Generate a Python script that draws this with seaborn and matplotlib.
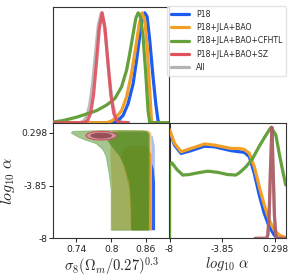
import numpy as np
import pandas as pd
import matplotlib
matplotlib.use("Agg")
import matplotlib.pyplot as plt
import matplotlib.lines as mlines
import seaborn as sns

# ---------------- data ----------------
labels = ["P18", "P18+JLA+BAO", "P18+JLA+BAO+CFHTL", "P18+JLA+BAO+SZ", "All"]
colors = ["#1c5cf2", "#f29f26", "#64a03c", "#e0505e", "#b4b4b4"]

# 1D marginal of sigma8 (Omega_m/0.27)^0.3
s8_p18_x = [0.70, 0.8035, 0.8121, 0.8207, 0.8293, 0.838, 0.8448, 0.8506, 0.8552, 0.8581, 0.8621, 0.8667, 0.8724, 0.8771, 0.881, 0.883, 0.90]
s8_p18_y = [0.0, 0.0, 0.02, 0.067, 0.173, 0.356, 0.60, 0.84, 0.98, 1.0, 0.965, 0.75, 0.416, 0.173, 0.02, 0.0, 0.0]
s8_jb_x = [0.70, 0.792, 0.8006, 0.8093, 0.8179, 0.8266, 0.8352, 0.8426, 0.8483, 0.8534, 0.8581, 0.8628, 0.8667, 0.8697, 0.871, 0.90]
s8_jb_y = [0.0, 0.0, 0.015, 0.05, 0.11, 0.234, 0.447, 0.69, 0.89, 1.0, 0.933, 0.66, 0.295, 0.02, 0.0, 0.0]
s8_cf_x = [0.70, 0.7172, 0.7403, 0.7576, 0.7748, 0.792, 0.8064, 0.8179, 0.8266, 0.8322, 0.838, 0.8426, 0.8466, 0.8506, 0.8552, 0.8598, 0.8638, 0.8667, 0.90]
s8_cf_y = [0.006, 0.02, 0.05, 0.08, 0.11, 0.16, 0.22, 0.325, 0.477, 0.63, 0.81, 0.95, 1.0, 0.965, 0.78, 0.447, 0.11, 0.0, 0.0]
s8_sz_x = [0.70, 0.750, 0.7545, 0.7595, 0.7645, 0.7695, 0.7745, 0.7795, 0.7845, 0.7895, 0.7945, 0.7995, 0.8045, 0.8095, 0.8145, 0.83]
s8_sz_y = [0.0, 0.0, 0.004, 0.021, 0.085, 0.25, 0.54, 0.857, 1.0, 0.857, 0.54, 0.25, 0.085, 0.021, 0.004, 0.0]
s8_all_x = [0.745, 0.748, 0.753, 0.758, 0.763, 0.768, 0.773, 0.778, 0.783, 0.788, 0.793, 0.798, 0.803, 0.808, 0.813, 0.818, 0.83]
s8_all_y = [0.0, 0.004, 0.017, 0.059, 0.163, 0.36, 0.635, 0.893, 1.0, 0.893, 0.635, 0.36, 0.163, 0.059, 0.017, 0.004, 0.0]

# 1D marginal of log10 alpha
la_p18_x = [-8.0, -7.61, -7.09, -6.31, -5.27, -4.48, -3.18, -2.53, -2.14, -1.75, -1.36, -0.97, -0.58, -0.19, 0.2, 0.45, 1.1]
la_p18_y = [0.97, 0.84, 0.765, 0.79, 0.83, 0.825, 0.79, 0.78, 0.775, 0.735, 0.585, 0.39, 0.225, 0.105, 0.03, 0.0, 0.0]
la_jb_x = [-8.0, -7.61, -7.09, -6.31, -5.27, -4.48, -3.18, -2.53, -2.14, -1.75, -1.36, -0.97, -0.58, -0.19, 0.2, 0.59, 0.98, 1.1]
la_jb_y = [0.98, 0.856, 0.78, 0.81, 0.85, 0.84, 0.81, 0.81, 0.80, 0.766, 0.646, 0.465, 0.30, 0.165, 0.075, 0.03, 0.01, 0.008]
la_cf_x = [-8.0, -8.0, -7.81, -7.42, -6.96, -6.44, -5.79, -5.01, -4.24, -3.46, -2.81, -2.53, -2.0, -1.49, -0.97, -0.45, -0.05, 0.33, 0.59, 0.85, 1.1]
la_cf_y = [0.0, 0.66, 0.68, 0.62, 0.57, 0.575, 0.59, 0.605, 0.595, 0.575, 0.57, 0.59, 0.646, 0.72, 0.83, 0.93, 1.0, 0.93, 0.766, 0.616, 0.48]
la_sz_x = [-1.3, -0.4, -0.3, -0.2, -0.1, 0.02, 0.12, 0.22, 0.32, 0.42, 1.1]
la_sz_y = [0.0, 0.0, 0.03, 0.2, 0.6, 1.0, 0.6, 0.2, 0.03, 0.0, 0.0]

# 2D contours (sigma8 combo, log10 alpha): outer / inner polygons
blue_out_x = [0.8087, 0.8661, 0.8719, 0.8754, 0.8759, 0.8018, 0.8018, 0.8029]
blue_out_y = [0.16, 0.16, 0.03, -0.75, -7.36, -7.36, -2.85, -1.01]
blue_in_x = [0.8374, 0.8661, 0.8736, 0.8759, 0.8759, 0.8374]
blue_in_y = [-1.54, -1.41, -2.59, -3.64, -7.36, -7.36]
orng_out_x = [0.8029, 0.8633, 0.8690, 0.8708, 0.8702, 0.8018, 0.8018, 0.7994, 0.7983, 0.8000]
orng_out_y = [0.50, 0.50, 0.34, -0.49, -7.36, -7.36, -4.16, -2.33, -1.01, 0.29]
orng_in_x = [0.8173, 0.8213, 0.8317, 0.8489, 0.8633, 0.8696, 0.8702, 0.8345, 0.8317, 0.8231]
orng_in_y = [-1.54, -0.97, -0.70, -0.68, -0.81, -1.41, -7.36, -7.36, -4.16, -2.59]
grn_out_x = [0.7311, 0.7340, 0.7684, 0.8144, 0.8546, 0.8633, 0.8661, 0.8661, 0.8655, 0.8650, 0.8000, 0.8000, 0.7972, 0.7943, 0.7914, 0.7857, 0.7742, 0.7569, 0.7426]
grn_out_y = [0.29, 0.42, 0.46, 0.48, 0.46, 0.38, 0.16, -1.54, -4.16, -7.36, -7.36, -4.16, -3.11, -2.33, -1.54, -1.01, -0.55, -0.29, -0.023]
grn_in_x = [0.7943, 0.8144, 0.8604, 0.8650, 0.8650, 0.8345, 0.8345, 0.8317, 0.8231, 0.8144, 0.8029, 0.7943]
grn_in_y = [0.29, 0.40, 0.40, 0.24, -7.36, -7.36, -5.47, -3.64, -2.33, -1.54, -0.88, -0.36]
red_out_x = [0.810, 0.806, 0.7965, 0.783, 0.7695, 0.7596, 0.756, 0.7596, 0.7695, 0.783, 0.7965, 0.806]
red_out_y = [0.08, 0.255, 0.383, 0.43, 0.383, 0.255, 0.08, -0.095, -0.223, -0.27, -0.223, -0.095]
red_in_x = [0.802, 0.7995, 0.7925, 0.783, 0.7735, 0.7665, 0.764, 0.7665, 0.7735, 0.783, 0.7925, 0.7995]
red_in_y = [0.08, 0.20, 0.288, 0.32, 0.288, 0.20, 0.08, -0.04, -0.128, -0.16, -0.128, -0.04]

s8_ticks = [0.74, 0.8, 0.86]
s8_ticklabels = ["0.74", "0.8", "0.86"]
la_ticks = [-8, -3.85, 0.298]
la_ticklabels = ["-8", "-3.85", "0.298"]

# ---------------- figure ----------------
sns.set_theme(style="ticks")
plt.rcParams["font.family"] = ["DejaVu Sans"]
plt.rcParams["mathtext.fontset"] = "cm"

fig = plt.figure(figsize=(2.95, 2.8), dpi=100)
ax_tl = fig.add_axes([0.1807, 0.5618, 0.3922, 0.4121])
ax_bl = fig.add_axes([0.1807, 0.1489, 0.3922, 0.4129])
ax_br = fig.add_axes([0.5746, 0.1489, 0.3939, 0.4129])

lw = 2.3

def line(ax, x, y, c, z, alpha=1.0):
    df = pd.DataFrame({"x": x, "y": y})
    sns.lineplot(data=df, x="x", y="y", ax=ax, color=c, lw=lw, sort=False,
                 estimator=None, zorder=z, alpha=alpha)

# top-left 1D
line(ax_tl, s8_all_x, s8_all_y, colors[4], 2, 0.9)
line(ax_tl, s8_p18_x, s8_p18_y, colors[0], 3)
line(ax_tl, s8_jb_x, s8_jb_y, colors[1], 4)
line(ax_tl, s8_cf_x, s8_cf_y, colors[2], 5)
line(ax_tl, s8_sz_x, s8_sz_y, colors[3], 6, 0.9)
ax_tl.set_xlim(0.70, 0.90)
ax_tl.set_ylim(0, 1.05)
ax_tl.set_xticks(s8_ticks)
ax_tl.set_xticklabels([])
ax_tl.set_yticks([])
ax_tl.set_xlabel("")
ax_tl.set_ylabel("")

# bottom-right 1D
line(ax_br, la_p18_x, la_p18_y, colors[0], 3)
line(ax_br, la_jb_x, la_jb_y, colors[1], 4)
line(ax_br, la_cf_x, la_cf_y, colors[2], 5)
line(ax_br, la_sz_x, la_sz_y, colors[3], 6, 0.9)
line(ax_br, la_sz_x, la_sz_y, "#707070", 7, 0.45)
ax_br.set_xlim(-8, 1.1)
ax_br.set_ylim(0, 1.042)
ax_br.set_xticks(la_ticks)
ax_br.set_xticklabels(la_ticklabels)
ax_br.set_yticks([])
ax_br.set_xlabel(r"$log_{10}\ \alpha$", fontsize=10.5, labelpad=1)
ax_br.set_ylabel("")

# bottom-left 2D
ax_bl.fill(blue_out_x, blue_out_y, color="#a8bef5", lw=0, zorder=1)
ax_bl.fill(blue_in_x, blue_in_y, color="#2e63f0", lw=0, zorder=2)
ax_bl.fill(orng_out_x, orng_out_y, color="#f6c98e", lw=0, zorder=3)
ax_bl.fill(orng_in_x, orng_in_y, color="#eb9a2b", lw=0, zorder=4)
ax_bl.fill(grn_out_x, grn_out_y, color="#5a9a36", alpha=0.55, lw=0.6, ec="#5a9a36", zorder=5)
ax_bl.fill(grn_in_x, grn_in_y, color="#4f8a22", alpha=0.7, lw=0, zorder=6)
ax_bl.fill(red_out_x, red_out_y, color="#cc9a9c", lw=0.8, ec="#d05060", zorder=7)
ax_bl.fill(red_in_x, red_in_y, color="#985058", lw=0, zorder=8)
ax_bl.set_xlim(0.70, 0.90)
ax_bl.set_ylim(-8, 1.1)
ax_bl.set_xticks(s8_ticks)
ax_bl.set_xticklabels(s8_ticklabels)
ax_bl.set_yticks(la_ticks)
ax_bl.set_yticklabels(la_ticklabels)
ax_bl.tick_params(axis="y", right=True)
for t in ax_bl.yaxis.get_major_ticks():
    t.tick2line.set_marker(mlines.TICKLEFT)
ax_bl.set_xlabel(r"$\sigma_8(\Omega_m/0.27)^{0.3}$", fontsize=10.5, labelpad=1)
ax_bl.set_ylabel(r"$log_{10}\ \alpha$", fontsize=11.5, labelpad=3)

for ax in (ax_tl, ax_bl, ax_br):
    for s in ax.spines.values():
        s.set_visible(True)
        s.set_linewidth(0.8)
        s.set_color("#333333")
    ax.tick_params(labelsize=6.6, length=3, width=0.7, pad=1.5, colors="#222222")

handles = [mlines.Line2D([], [], color=c, lw=lw) for c in colors]
fig.legend(handles, labels, loc="upper right", bbox_to_anchor=(0.97, 0.977),
           fontsize=5.6, handlelength=2.4, handletextpad=0.9, labelspacing=0.55,
           borderpad=0.45, borderaxespad=0, frameon=True, fancybox=True,
           edgecolor="#dddddd")

fig.savefig("out.png", dpi=100)
